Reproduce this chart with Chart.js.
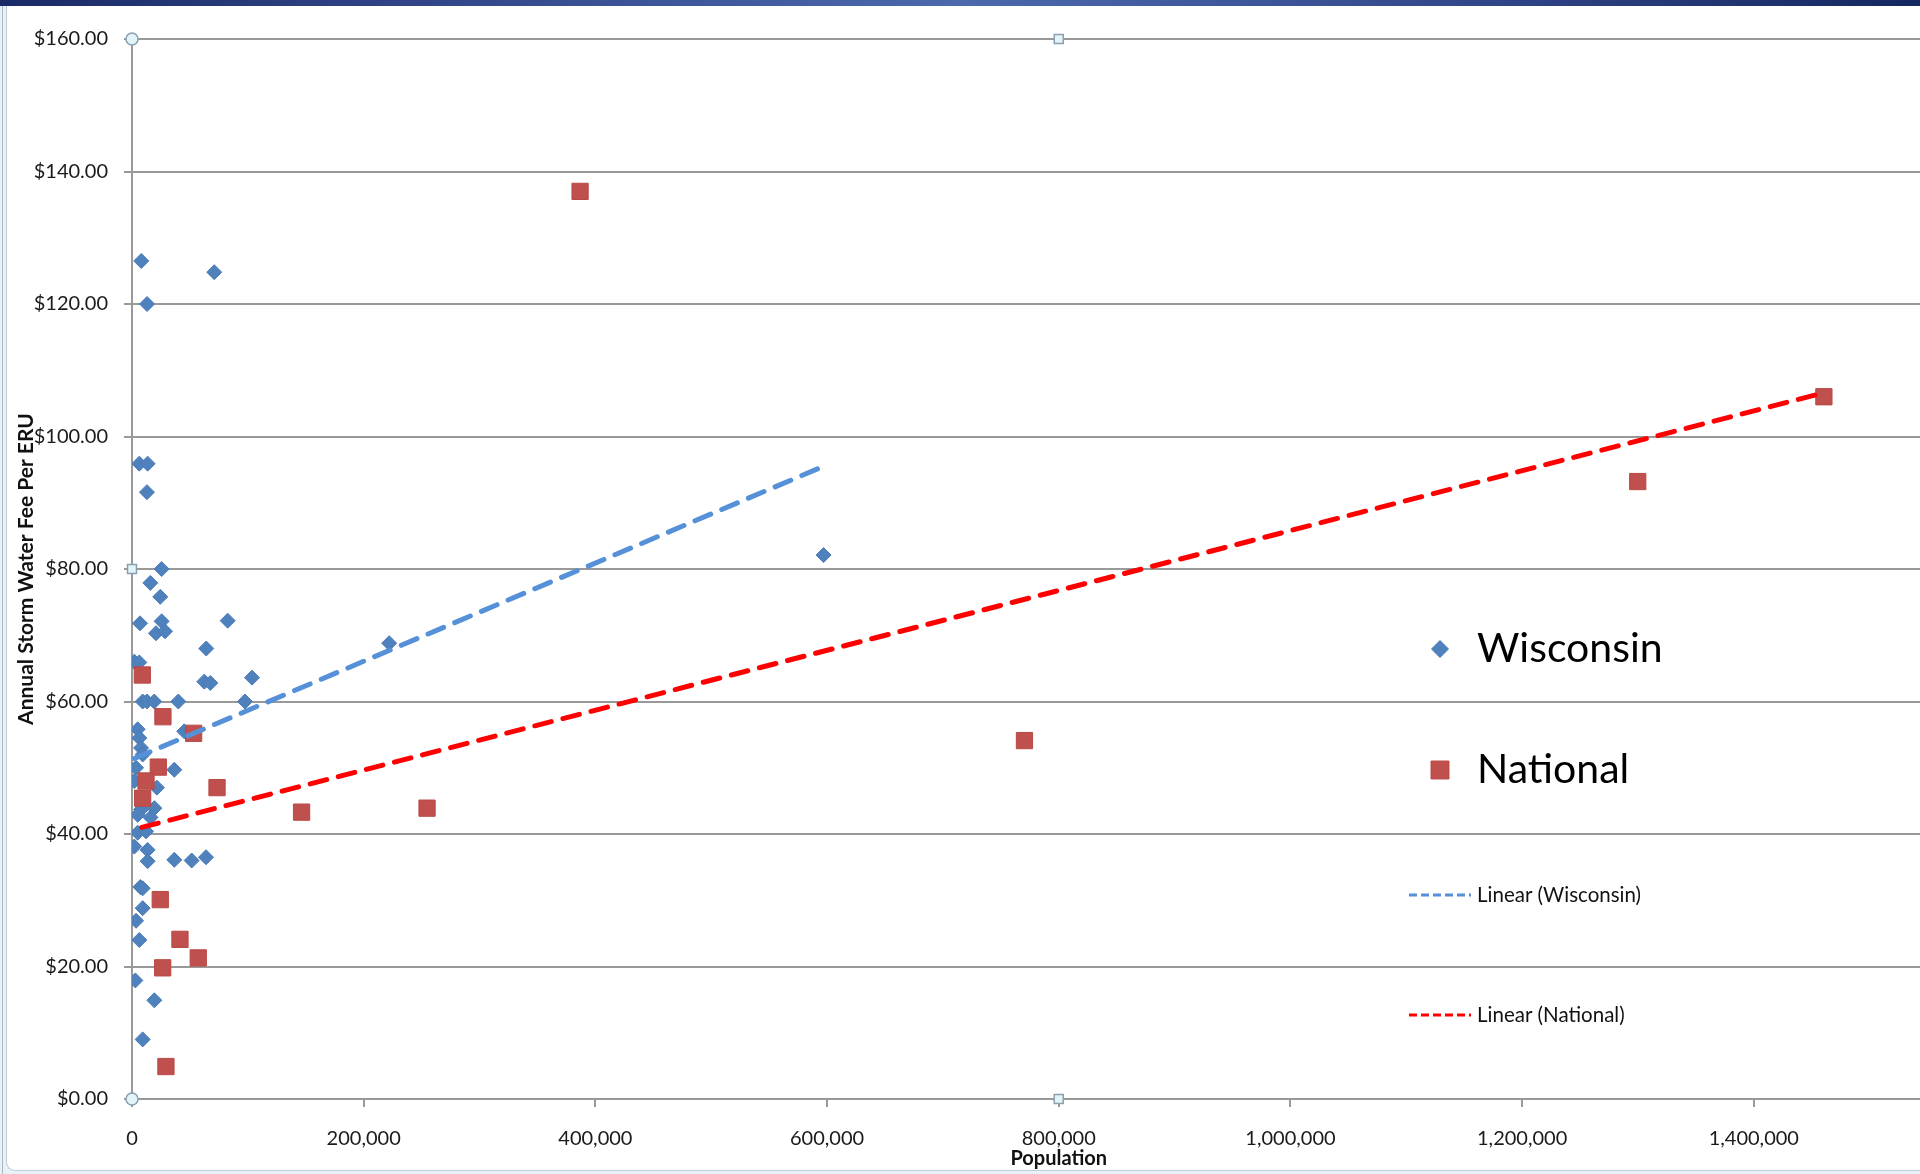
<!DOCTYPE html>
<html>
<head>
<meta charset="utf-8">
<script src="https://cdn.jsdelivr.net/npm/chart.js@4.4.1/dist/chart.umd.min.js"></script>
<style>
html,body{margin:0;padding:0;overflow:hidden;background:#fff;}
#wrap{position:relative;width:1920px;height:1174px;overflow:hidden;background:#e6f2f8;}
#frame{position:absolute;left:6px;top:6px;width:1990px;height:1164px;background:#fff;border-left:1px solid #c3ccd3;border-bottom:1px solid #c3ccd3;border-bottom-left-radius:9px;}
#topbar{position:absolute;left:0;top:0;width:1920px;height:6px;z-index:3;background:linear-gradient(90deg,#1a2a66 0%,#34498c 25%,#4c69ae 50%,#34498c 75%,#14275f 100%);}
#leftline{position:absolute;left:2px;top:6px;width:1px;height:1168px;background:#a9b8c2;}
#box{position:absolute;left:0;top:0;width:1998px;height:1174px;z-index:2;}
</style>
</head>
<body>
<div id="wrap">
  <div id="leftline"></div>
  <div id="frame"></div>
  <div id="box"><canvas id="c"></canvas></div>
  <div id="topbar"></div>
</div>
<script>
// ---- data ----
const wisconsinPop = [8000, 71000, 13000, 6300, 13500, 12900, 597000, 25600, 15800, 24400,
  6900, 25600, 20700, 28500, 82600, 222000, 64100, 2000, 6300, 62400,
  67600, 103600, 9200, 12900, 19200, 40000, 97500, 4900, 6300, 45100,
  7800, 9200, 3500, 36500, 2000, 21500, 19300, 7800, 4900, 16000,
  4900, 12100, 2000, 13500, 13500, 36500, 51500, 63900, 7200, 9200,
  9200, 3500, 6300, 2900, 19300, 9200];
const wisconsinFee = [126.5, 124.8, 120.0, 95.9, 95.9, 91.6, 82.1, 80.0, 77.9, 75.8,
  71.8, 72.1, 70.3, 70.6, 72.2, 68.8, 68.0, 66.0, 65.9, 63.0,
  62.8, 63.6, 60.0, 60.0, 60.0, 60.0, 60.0, 55.8, 54.5, 55.5,
  53.0, 52.0, 50.0, 49.7, 48.0, 47.0, 43.9, 43.7, 42.9, 42.5,
  40.2, 40.4, 38.1, 37.6, 35.9, 36.1, 36.0, 36.5, 32.0, 31.8,
  28.8, 26.9, 24.0, 17.9, 14.9, 9.0];
const nationalPop = [386800, 1460500, 1299800, 8900, 26700, 53200, 770400, 22700, 12100, 9200,
  73400, 146400, 254700, 24400, 41400, 57200, 26500, 29300];
const nationalFee = [137.0, 106.0, 93.2, 64.0, 57.7, 55.2, 54.1, 50.1, 48.0, 45.4,
  47.0, 43.3, 43.9, 30.1, 24.1, 21.3, 19.8, 4.9];
// trend line end points (as drawn in the picture)
const wisconsinTrendPop = [2000, 597000];
const wisconsinTrendFee = [51.4, 95.5];
const nationalTrendPop = [8400, 1460500];
const nationalTrendFee = [41.0, 106.6];
// axes
const xTickValues = [0, 200000, 400000, 600000, 800000, 1000000, 1200000, 1400000];
const yTickValues = [0, 20, 40, 60, 80, 100, 120, 140, 160];
const xTitle = 'Population';
const yTitle = 'Annual Storm Water Fee Per ERU';

const pts = (xs, ys) => xs.map((x, i) => ({x: x, y: ys[i]}));
const FONT = 'Lato';

const legendPlugin = {
  id: 'excelLegend',
  afterDatasetsDraw(chart) {
    const ctx = chart.ctx;
    const ds = chart.data.datasets;
    const byLabel = l => ds.find(d => d.label === l);
    ctx.save();
    const mx = 1440, tx = 1477;
    const wi = byLabel('Wisconsin'), na = byLabel('National');
    [[wi, 649, 8.5], [na, 770, 12.7]].forEach(([d, y, r]) => {
      ctx.fillStyle = d.backgroundColor;
      ctx.strokeStyle = d.borderColor;
      ctx.lineWidth = 1;
      Chart.helpers.drawPoint(ctx, {pointStyle: d.pointStyle, radius: r, rotation: 0, borderWidth: 1}, mx, y);
      ctx.fillStyle = '#000';
      ctx.font = '41px ' + FONT;
      ctx.textBaseline = 'middle';
      ctx.textAlign = 'left';
      ctx.fillText(d.label, tx, y);
    });
    const lw = byLabel('Linear (Wisconsin)'), ln = byLabel('Linear (National)');
    [[lw, 895], [ln, 1015]].forEach(([d, y]) => {
      ctx.strokeStyle = d.borderColor;
      ctx.lineWidth = 3;
      ctx.setLineDash([8, 4]);
      ctx.lineCap = 'butt';
      ctx.beginPath();
      ctx.moveTo(1409, y);
      ctx.lineTo(1471, y);
      ctx.stroke();
      ctx.setLineDash([]);
      ctx.fillStyle = '#111';
      ctx.font = '20.5px ' + FONT;
      ctx.textBaseline = 'middle';
      ctx.fillText(d.label, tx, y);
    });
    ctx.restore();
  }
};

const handlePlugin = {
  id: 'handles',
  afterDraw(chart) {
    const a = chart.chartArea, ctx = chart.ctx;
    const mx = (a.left + a.right) / 2, my = (a.top + a.bottom) / 2;
    ctx.save();
    ctx.fillStyle = '#e3f4f8';
    ctx.strokeStyle = '#8aa0b0';
    ctx.lineWidth = 1.5;
    [[a.left, a.top], [a.left, a.bottom], [a.right, a.top], [a.right, a.bottom]].forEach(([x, y]) => {
      ctx.beginPath(); ctx.arc(x, y, 6, 0, Math.PI * 2); ctx.fill(); ctx.stroke();
    });
    [[mx, a.top], [mx, a.bottom], [a.left, my], [a.right, my]].forEach(([x, y]) => {
      ctx.fillRect(x - 4.5, y - 4.5, 9, 9); ctx.strokeRect(x - 4.5, y - 4.5, 9, 9);
    });
    ctx.restore();
  }
};

new Chart(document.getElementById('c'), {
  type: 'scatter',
  data: {
    datasets: [
      {label: 'Linear (National)', type: 'line', data: pts(nationalTrendPop, nationalTrendFee),
        borderColor: '#ff0000', borderWidth: 5, borderDash: [17, 12], borderCapStyle: 'round',
        pointRadius: 0, fill: false, showLine: true, order: 0},
      {label: 'Linear (Wisconsin)', type: 'line', data: pts(wisconsinTrendPop, wisconsinTrendFee),
        borderColor: '#5590d8', borderWidth: 5, borderDash: [17, 12], borderCapStyle: 'round',
        pointRadius: 0, fill: false, showLine: true, order: 1},
      {label: 'National', data: pts(nationalPop, nationalFee), pointStyle: 'rect', pointRadius: 11.5,
        backgroundColor: '#c0504d', borderColor: '#b94a47', borderWidth: 1, order: 2},
      {label: 'Wisconsin', data: pts(wisconsinPop, wisconsinFee), pointStyle: 'rectRot', pointRadius: 7.5,
        backgroundColor: '#4f81bd', borderColor: '#4a7bb6', borderWidth: 1, order: 3}
    ]
  },
  options: {
    responsive: true,
    maintainAspectRatio: false,
    animation: false,
    events: [],
    layout: {padding: {top: 39, right: 5, left: 0, bottom: 0}},
    plugins: {legend: {display: false}, tooltip: {enabled: false}},
    scales: {
      x: {
        type: 'linear', min: 0, max: 1600000,
        afterBuildTicks: s => { s.ticks = xTickValues.map(v => ({value: v})); },
        afterFit: s => { s.height = 75; },
        ticks: {callback: v => v.toLocaleString('en-US'), font: {family: FONT, size: 20}, color: '#1a1a1a',
          padding: 20, maxRotation: 0, autoSkip: false},
        grid: {display: true, drawOnChartArea: false, drawTicks: true, tickLength: 8, color: '#999', lineWidth: 2},
        border: {display: true, color: '#999', width: 2},
        title: {display: true, text: xTitle, font: {family: FONT, size: 20, weight: 'bold'}, color: '#111',
          padding: {top: 0, bottom: 3}}
      },
      y: {
        type: 'linear', min: 0, max: 160,
        afterBuildTicks: s => { s.ticks = yTickValues.map(v => ({value: v})); },
        afterFit: s => { s.width = 132; },
        ticks: {callback: v => '$' + Number(v).toFixed(2), font: {family: FONT, size: 20}, color: '#1a1a1a', padding: 16},
        grid: {color: '#999', lineWidth: 2, tickLength: 8, drawTicks: true},
        border: {display: true, color: '#999', width: 2},
        title: {display: true, text: yTitle, font: {family: FONT, size: 21, weight: 'bold'}, color: '#111',
          padding: {top: 14, bottom: 0}}
      }
    }
  },
  plugins: [legendPlugin, handlePlugin]
});
</script>
</body>
</html>
